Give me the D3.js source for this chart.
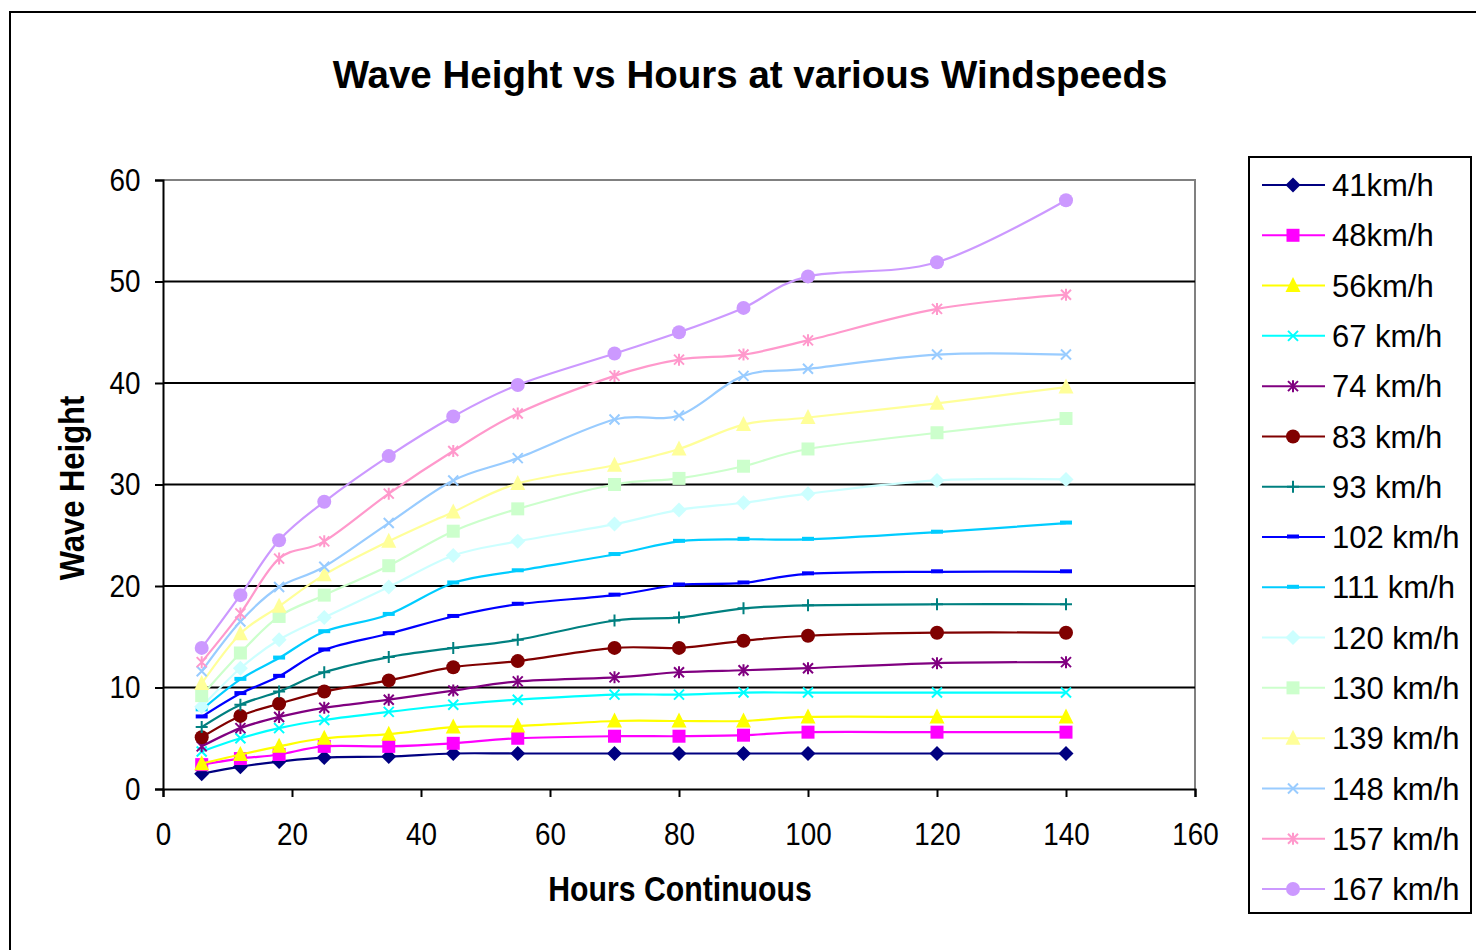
<!DOCTYPE html>
<html lang="en">
<head>
<meta charset="UTF-8">
<title>Wave Height vs Hours at various Windspeeds</title>
<script src="https://d3js.org/d3.v7.min.js"></script>
<style>
  body { margin: 0; background: #fff; }
  svg { display: block; }
  .axis .tick text {
    font-family: "Liberation Sans Narrow", "Arial Narrow", "Liberation Sans", Arial, sans-serif;
    font-size: 32px;
    fill: #000;
  }
  .axis-title {
    font-family: "Liberation Sans", Arial, sans-serif;
    font-weight: bold;
    font-size: 36px;
  }
  .chart-title {
    font-family: "Liberation Sans", Arial, sans-serif;
    font-weight: bold;
    font-size: 38.5px;
  }
  .legend text {
    font-family: "Liberation Sans", Arial, sans-serif;
    font-size: 31px;
  }
</style>
</head>
<body>
<div id="chart"></div>
<script>
// hours of continuous wind (x values shared by every series)
const hours = [6, 12, 18, 25, 35, 45, 55, 70, 80, 90, 100, 120, 140];

// wave height per windspeed
const s41  = [1.5, 2.2, 2.7, 3.1, 3.2, 3.5, 3.5, 3.5, 3.5, 3.5, 3.5, 3.5, 3.5];
const s48  = [2.4, 3.0, 3.4, 4.2, 4.2, 4.5, 5.0, 5.2, 5.2, 5.3, 5.6, 5.6, 5.6];
const s56  = [2.5, 3.4, 4.2, 5.0, 5.4, 6.1, 6.2, 6.7, 6.7, 6.7, 7.1, 7.1, 7.1];
const s67  = [3.7, 5.0, 6.0, 6.8, 7.6, 8.3, 8.8, 9.3, 9.3, 9.5, 9.5, 9.5, 9.5];
const s74  = [4.2, 6.0, 7.1, 8.0, 8.8, 9.7, 10.6, 11.0, 11.5, 11.7, 11.9, 12.4, 12.5];
const s83  = [5.1, 7.2, 8.4, 9.6, 10.7, 12.0, 12.6, 13.9, 13.9, 14.6, 15.1, 15.4, 15.4];
const s93  = [6.1, 8.3, 9.6, 11.5, 13.0, 13.9, 14.7, 16.6, 16.9, 17.8, 18.1, 18.2, 18.2];
const s102 = [7.1, 9.4, 11.1, 13.7, 15.3, 17.0, 18.2, 19.1, 20.1, 20.3, 21.2, 21.4, 21.4];
const s111 = [7.8, 10.8, 12.9, 15.5, 17.2, 20.3, 21.5, 23.1, 24.4, 24.6, 24.6, 25.3, 26.2];
const s120 = [8.1, 11.9, 14.7, 16.9, 19.9, 23.0, 24.4, 26.1, 27.5, 28.2, 29.1, 30.4, 30.5];
const s130 = [9.2, 13.4, 17.0, 19.1, 22.0, 25.4, 27.6, 30.0, 30.6, 31.8, 33.5, 35.1, 36.5];
const s139 = [10.4, 15.3, 18.0, 21.1, 24.4, 27.3, 30.1, 31.9, 33.5, 35.9, 36.6, 38.0, 39.6];
const s148 = [11.6, 16.5, 19.9, 21.9, 26.2, 30.4, 32.6, 36.4, 36.8, 40.7, 41.4, 42.8, 42.8];
const s157 = [12.5, 17.3, 22.7, 24.4, 29.1, 33.3, 37.0, 40.7, 42.3, 42.8, 44.2, 47.3, 48.7];
const s167 = [13.9, 19.1, 24.5, 28.3, 32.8, 36.7, 39.8, 42.9, 45.0, 47.4, 50.5, 51.9, 58.0];

const seriesValues = [s41, s48, s56, s67, s74, s83, s93, s102, s111, s120, s130, s139, s148, s157, s167];
const seriesNames = ["41km/h", "48km/h", "56km/h", "67 km/h", "74 km/h", "83 km/h", "93 km/h",
  "102 km/h", "111 km/h", "120 km/h", "130 km/h", "139 km/h", "148 km/h", "157 km/h", "167 km/h"];
const seriesColors = ["#000080", "#FF00FF", "#FFFF00", "#00FFFF", "#800080", "#800000", "#008080",
  "#0000FF", "#00CCFF", "#CCFFFF", "#CCFFCC", "#FFFF99", "#99CCFF", "#FF99CC", "#CC99FF"];
const seriesMarkers = ["diamond", "square", "triangle", "x", "star", "circle", "plus",
  "dash", "dash", "diamond", "square", "triangle", "x", "star", "circle"];

const xTicks = [0, 20, 40, 60, 80, 100, 120, 140, 160];
const yTicks = [0, 10, 20, 30, 40, 50, 60];

const W = 1476, H = 950;
const svg = d3.select("#chart").append("svg")
  .attr("width", W)
  .attr("height", H);

// outer chart frame (right / bottom edges run past the window)
svg.append("rect")
  .attr("x", 10).attr("y", 12)
  .attr("width", 1500).attr("height", 1000)
  .attr("fill", "#fff")
  .attr("stroke", "#000")
  .attr("stroke-width", 2);

const x = d3.scaleLinear().domain([0, 160]).range([163, 1195]);
const y = d3.scaleLinear().domain([0, 60]).range([789, 180]);

// plot area border (top/right grey)
svg.append("path")
  .attr("d", `M${x(0)},${y(60)}H${x(160)}V${y(0)}`)
  .attr("fill", "none")
  .attr("stroke", "#808080")
  .attr("stroke-width", 2);

// gridlines
svg.append("g")
  .selectAll("line")
  .data(yTicks.filter(d => d > 0 && d < 60))
  .enter().append("line")
  .attr("x1", x(0)).attr("x2", x(160))
  .attr("y1", d => y(d)).attr("y2", d => y(d))
  .attr("stroke", "#000")
  .attr("stroke-width", 2);

// axes
const yAxis = svg.append("g")
  .attr("class", "axis")
  .attr("transform", `translate(${x(0)},0)`)
  .call(d3.axisLeft(y).tickValues(yTicks).tickSize(8).tickPadding(18).tickFormat(d3.format("d")));
const xAxis = svg.append("g")
  .attr("class", "axis")
  .attr("transform", `translate(0,${y(0)})`)
  .call(d3.axisBottom(x).tickValues(xTicks).tickSize(8).tickPadding(25).tickFormat(d3.format("d")));
[yAxis, xAxis].forEach(a => {
  a.select(".domain").attr("stroke", "#000").attr("stroke-width", 2);
  a.selectAll(".tick line").attr("stroke", "#000").attr("stroke-width", 2);
  // squeeze the digits a bit, the original uses a narrow face
  a.selectAll(".tick text").attr("transform", "scale(0.87,1)");
});

// marker shapes
function markerPath(type) {
  const p = d3.path();
  if (type === "diamond") {
    const r = 7.5;
    p.moveTo(0, -r); p.lineTo(r, 0); p.lineTo(0, r); p.lineTo(-r, 0); p.closePath();
  } else if (type === "square") {
    const r = 6.5;
    p.rect(-r, -r, 2 * r, 2 * r);
  } else if (type === "triangle") {
    const r = 7.5;
    p.moveTo(0, -r - 1); p.lineTo(r, r - 1); p.lineTo(-r, r - 1); p.closePath();
  } else if (type === "x") {
    const r = 5;
    p.moveTo(-r, -r); p.lineTo(r, r); p.moveTo(-r, r); p.lineTo(r, -r);
  } else if (type === "star") {
    const r = 5;
    p.moveTo(-r, -r); p.lineTo(r, r); p.moveTo(-r, r); p.lineTo(r, -r);
    p.moveTo(0, -r - 1); p.lineTo(0, r + 1);
  } else if (type === "circle") {
    p.arc(0, 0, 7, 0, 2 * Math.PI);
  } else if (type === "plus") {
    const r = 6;
    p.moveTo(-r, 0); p.lineTo(r, 0); p.moveTo(0, -r); p.lineTo(0, r);
  } else if (type === "dash") {
    p.rect(-6, -2.5, 12, 4);
  }
  return p.toString();
}
const stroked = t => t === "x" || t === "star" || t === "plus";

const line = d3.line()
  .x(d => x(d[0]))
  .y(d => y(d[1]))
  .curve(d3.curveCardinal.tension(0));

const series = seriesValues.map((vals, i) => ({
  name: seriesNames[i],
  color: seriesColors[i],
  marker: seriesMarkers[i],
  points: hours.map((h, j) => [h, vals[j]])
}));

const sg = svg.append("g")
  .selectAll("g")
  .data(series)
  .enter().append("g");

sg.append("path")
  .attr("d", d => line(d.points))
  .attr("fill", "none")
  .attr("stroke", d => d.color)
  .attr("stroke-width", 2.2);

sg.each(function(s) {
  d3.select(this).selectAll("path.mk")
    .data(s.points)
    .enter().append("path")
    .attr("class", "mk")
    .attr("transform", d => `translate(${x(d[0])},${y(d[1])})`)
    .attr("d", markerPath(s.marker))
    .attr("fill", stroked(s.marker) ? "none" : s.color)
    .attr("stroke", stroked(s.marker) ? s.color : "none")
    .attr("stroke-width", 2);
});

// titles
svg.append("text")
  .attr("class", "chart-title")
  .attr("x", 750).attr("y", 88)
  .attr("text-anchor", "middle")
  .text("Wave Height vs Hours at various Windspeeds");

svg.append("text")
  .attr("class", "axis-title")
  .attr("transform", "translate(680,901) scale(0.84,1)")
  .attr("text-anchor", "middle")
  .text("Hours Continuous");

svg.append("text")
  .attr("class", "axis-title")
  .attr("transform", "translate(84,488) rotate(-90) scale(0.86,1)")
  .attr("text-anchor", "middle")
  .text("Wave Height");

// legend
const legend = svg.append("g").attr("class", "legend");
legend.append("rect")
  .attr("x", 1249).attr("y", 157)
  .attr("width", 222).attr("height", 756)
  .attr("fill", "#fff")
  .attr("stroke", "#000")
  .attr("stroke-width", 2);

const rowY = d3.scalePoint().domain(seriesNames).range([185, 889]);
const li = legend.selectAll("g.item")
  .data(series)
  .enter().append("g")
  .attr("class", "item")
  .attr("transform", d => `translate(0,${rowY(d.name)})`);
li.append("line")
  .attr("x1", 1262).attr("x2", 1325)
  .attr("stroke", d => d.color)
  .attr("stroke-width", 2);
li.append("path")
  .attr("transform", "translate(1293,0)")
  .attr("d", d => markerPath(d.marker))
  .attr("fill", d => stroked(d.marker) ? "none" : d.color)
  .attr("stroke", d => stroked(d.marker) ? d.color : "none")
  .attr("stroke-width", 2);
li.append("text")
  .attr("x", 1332)
  .attr("dy", "0.36em")
  .attr("fill", "#000")
  .text(d => d.name);
</script>
</body>
</html>
